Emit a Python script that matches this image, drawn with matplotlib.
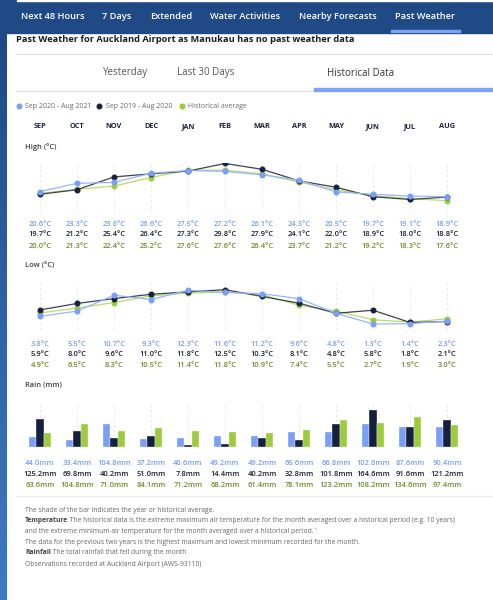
import matplotlib
matplotlib.use("Agg")
import matplotlib.pyplot as plt
import matplotlib.transforms as mtransforms
from matplotlib.patches import Rectangle
from matplotlib.colors import LinearSegmentedColormap
import numpy as np

plt.rcParams['font.family'] = ['Open Sans', 'DejaVu Sans']

# ---- data ----
months = ['SEP', 'OCT', 'NOV', 'DEC', 'JAN', 'FEB', 'MAR', 'APR', 'MAY', 'JUN', 'JUL', 'AUG']
series_names = ['Sep 2020 - Aug 2021', 'Sep 2019 - Aug 2020', 'Historical average']

high_2021 = [20.6, 23.3, 23.6, 26.6, 27.5, 27.2, 26.1, 24.3, 20.5, 19.7, 19.1, 18.9]
high_2020 = [19.7, 21.2, 25.4, 26.4, 27.3, 29.8, 27.9, 24.1, 22.0, 18.9, 18.0, 18.8]
high_avg = [20.0, 21.3, 22.4, 25.2, 27.6, 27.6, 26.4, 23.7, 21.2, 19.2, 18.3, 17.6]

low_2021 = [3.8, 5.5, 10.7, 9.3, 12.3, 11.6, 11.2, 9.6, 4.8, 1.3, 1.4, 2.3]
low_2020 = [5.9, 8.0, 9.6, 11.0, 11.8, 12.5, 10.3, 8.1, 4.8, 5.8, 1.8, 2.1]
low_avg = [4.9, 6.5, 8.3, 10.5, 11.4, 11.8, 10.9, 7.4, 5.5, 2.7, 1.9, 3.0]

rain_2021 = [44.0, 33.4, 104.8, 37.2, 40.6, 49.2, 49.2, 65.6, 66.8, 102.6, 87.6, 90.4]
rain_2020 = [125.2, 69.8, 40.2, 51.0, 7.8, 14.4, 40.2, 32.8, 101.8, 164.6, 91.6, 121.2]
rain_avg = [63.6, 104.8, 71.0, 84.1, 71.2, 68.2, 61.4, 78.1, 123.2, 108.2, 134.6, 97.4]

nav_tabs = ['Next 48 Hours', '7 Days', 'Extended', 'Water Activities', 'Nearby Forecasts', 'Past Weather']
sub_tabs = ['Yesterday', 'Last 30 Days', 'Historical Data']

# colours
navy_bg = '#1f4a86'
c_blue = '#7a9ff7'
c_dark = '#17213d'
c_green = '#9ccb3c'
line_cols = ['#97b5f9', '#3b4254', '#b9dd66']
txt_cols = ['#7a9ff7', '#1c2030', '#6f8d2a']

W, H = 493, 600
fig = plt.figure(figsize=(W / 100, H / 100), dpi=100)
bg = fig.add_axes([0, 0, 1, 1])
bg.set_xlim(0, W)
bg.set_ylim(H, 0)
bg.axis('off')

def px_axes(x0, y0, x1, y1):
    return fig.add_axes([x0 / W, 1 - y1 / H, (x1 - x0) / W, (y1 - y0) / H])

# ---- page chrome ----
bg.add_patch(Rectangle((0, 0), W, 33, color=navy_bg, zorder=1))
bg.add_patch(Rectangle((17, 0), W - 17, 1.3, color='white', zorder=2))
grad = np.linspace(0, 1, 200).reshape(-1, 1)
strip_cmap = LinearSegmentedColormap.from_list('strip', [navy_bg, '#3e7bc3'])
bg.imshow(grad, cmap=strip_cmap, extent=(0, 6.5, H, 33), aspect='auto', origin='upper', zorder=1)
bg.set_xlim(0, W)
bg.set_ylim(H, 0)

nav_x = [20.7, 102, 150, 210, 299, 395]
for xx, t in zip(nav_x, nav_tabs):
    bg.text(xx, 16.5, t, color='white', fontsize=6.7, fontweight='semibold', va='center', ha='left')
bg.add_patch(Rectangle((390.5, 29.5), 69.5, 2.3, color='#7fa2f5', zorder=3))

bg.text(15.7, 39.5, 'Past Weather for Auckland Airport as Manukau has no past weather data',
        color='#1c1c1c', fontsize=6.7, fontweight='bold', va='center', ha='left')
bg.plot([15.7, W], [54.3, 54.3], color='#dcdcdc', lw=0.8)

sub_x = [103, 177, 327]
for xx, t in zip(sub_x, sub_tabs):
    bg.text(xx, 73, t, color='#333333' if t == 'Historical Data' else '#555555', fontsize=7.0,
            va='center', ha='left')
bg.plot([15.7, 314], [91.3, 91.3], color='#dcdcdc', lw=0.8)
bg.add_patch(Rectangle((314, 88.2), W - 314, 2.6, color='#7fa2f5', zorder=3))

# legend
leg_dot_x = [18.7, 99.3, 181.7]
for xx, name, c in zip(leg_dot_x, series_names, [c_blue, c_dark, c_green]):
    bg.plot(xx, 106, 'o', ms=3.3, color=c)
    bg.text(xx + 6.3, 106, name, color='#6a6a6a', fontsize=5.0, va='center', ha='left')

# ---- charts ----
x = np.arange(len(months))
col_x0, col_dx = 40, 37
xlim = ((22 - col_x0) / col_dx, (466 - col_x0) / col_dx)


def setup(ax, ylim):
    ax.set_xlim(*xlim)
    ax.set_ylim(*ylim)
    ax.axis('off')
    for xi in x:
        ax.axvline(xi, color='#e6e6e6', lw=0.6, ls=(0, (3, 3)), zorder=0)


def value_rows(ax, rows, ys, fmt):
    tr = mtransforms.blended_transform_factory(ax.transData, bg.transData)
    for vals, yy, c in zip(rows, ys, txt_cols):
        for xi, v in zip(x, vals):
            fig.text(xi, yy, fmt.format(v), transform=tr, color=c, fontsize=5.4,
                     fontweight='semibold', ha='center', va='center')


# month header
head_ax = px_axes(22, 120, 466, 134)
head_ax.set_xlim(*xlim)
head_ax.axis('off')
tr_head = mtransforms.blended_transform_factory(head_ax.transData, bg.transData)
for xi, m in zip(x, months):
    head_ax.text(xi, 127, m, transform=tr_head, color='#1c2438', fontsize=5.3,
                 fontweight='bold', ha='center', va='center')

# high
bg.text(25, 146.7, 'High (°C)', color='#444444', fontsize=5.4, fontweight='semibold', va='center')
ax_hi = px_axes(22, 163, 466, 212)
setup(ax_hi, (13.89, 29.96))
for vals, lc, mc in zip([high_avg, high_2020, high_2021], line_cols[::-1], [c_green, c_dark, c_blue]):
    ax_hi.plot(x, vals, color=lc, lw=0.9, marker='o', ms=3.3, mfc=mc, mec=mc, zorder=2)
value_rows(ax_hi, [high_2021, high_2020, high_avg], [224.3, 235.0, 246.0], '{:.1f}°C')

# low
bg.text(25, 266, 'Low (°C)', color='#444444', fontsize=5.4, fontweight='semibold', va='center')
ax_lo = px_axes(22, 283, 466, 330)
setup(ax_lo, (-0.66, 14.69))
for vals, lc, mc in zip([low_avg, low_2020, low_2021], line_cols[::-1], [c_green, c_dark, c_blue]):
    ax_lo.plot(x, vals, color=lc, lw=0.9, marker='o', ms=3.3, mfc=mc, mec=mc, zorder=2)
value_rows(ax_lo, [low_2021, low_2020, low_avg], [344.3, 355.0, 365.3], '{:.1f}°C')

# rain
bg.text(25, 385.7, 'Rain (mm)', color='#444444', fontsize=5.4, fontweight='semibold', va='center')
ax_rn = px_axes(22, 401.7, 466, 447.0)
setup(ax_rn, (0, 203.0))
bw = 7.3 / col_dx
for off, vals, c in zip([-bw, 0, bw], [rain_2021, rain_2020, rain_avg], [c_blue, c_dark, c_green]):
    ax_rn.bar(x + off, vals, bw, color=c, edgecolor='white', lw=0.25, zorder=2)
value_rows(ax_rn, [rain_2021, rain_2020, rain_avg], [463.7, 474.7, 485.3], '{:.1f}mm')

bg.plot([15.7, W], [496.3, 496.3], color='#ececec', lw=0.8)

# ---- footer notes ----
foot = [
    (None, 'The shade of the bar indicates the year or historical average.'),
    ('Temperature', ' The historical data is the extreme maximum air temperature for the month averaged over a historical period (e.g. 10 years)'),
    (None, 'and the extreme minimum air temperature for the month averaged over a historical period. \''),
    (None, 'The data for the previous two years is the highest maximum and lowest minimum recorded for the month.'),
    ('Rainfall', ' The total rainfall that fell during the month'),
    (None, 'Observations recorded at Auckland Airport (AWS-93110)'),
]
foot_y = [510, 520.7, 531.7, 542.3, 552.7, 564.3]
for (bold, rest), yy in zip(foot, foot_y):
    if bold:
        t1 = bg.text(25, yy, bold, color='#444444', fontsize=4.9, fontweight='bold', va='center')
        bg.annotate(rest, xy=(1, 0.5), xycoords=t1, va='center', ha='left',
                    color='#666666', fontsize=4.9)
    else:
        bg.text(25, yy, rest, color='#666666', fontsize=4.9, va='center')

fig.savefig('out.png', dpi=100)
